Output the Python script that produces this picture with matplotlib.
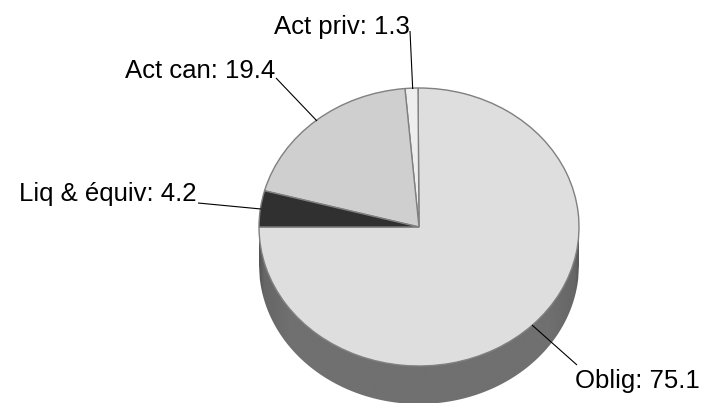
import numpy as np
import matplotlib
matplotlib.use('Agg')
import matplotlib.pyplot as plt
from matplotlib.patches import Polygon

# values as printed on the chart, counter-clockwise from 9 o'clock
categories = ['Oblig', 'Act priv', 'Act can', 'Liq & équiv']
values = [75.1, 1.3, 19.4, 4.2]
slice_colors = ['#dedede', '#eeeeee', '#cfcfcf', '#303030']

W, H = 702, 403
CX, CY = 419, 227      # pie centre in pixels
RX, RY = 160, 139      # ellipse radii in pixels
DEPTH = 38             # height of the side wall in pixels


def px(x, y):
    # pixel position (from top left) to data units
    return (x - CX) / RX, (CY - y) / RY


plt.rcParams['font.family'] = ['Liberation Sans', 'DejaVu Sans']

fig = plt.figure(figsize=(W / 100, H / 100), dpi=100)
ax = fig.add_axes([0, 0, 1, 1])

# top of the pie, squashed into an ellipse below by the axis limits
wedges, _ = ax.pie(values, colors=slice_colors, startangle=180, radius=1,
                   wedgeprops={'edgecolor': '#808080', 'linewidth': 1.0})
for w in wedges:
    w.set_zorder(5)

# side wall: horizontal gradient clipped to the lower rim, darker near both ends
d = DEPTH / RY
xs = np.linspace(-1, 1, 401)
arc = np.sqrt(1 - xs ** 2)
shade = np.interp(np.abs(xs), [0, 0.8, 0.97, 1], [0.44, 0.44, 0.40, 0.33])
rim = Polygon(np.column_stack([np.r_[xs, xs[::-1]],
                               np.r_[-arc - d, (-arc)[::-1] + 0.01]]),
              transform=ax.transData)
side = ax.imshow(shade[np.newaxis, :], cmap='gray', vmin=0, vmax=1, aspect='auto',
                 extent=(-1, 1, -1 - d, 0.02), zorder=2)
side.set_clip_path(rim)

ax.set_aspect('auto')
ax.set_xlim(-CX / RX, (W - CX) / RX)
ax.set_ylim(-(H - CY) / RY, CY / RY)
ax.axis('off')

# leader lines
leaders = [((532, 325), (577, 365)),
           ((412.7, 89), (410, 31)),
           ((317, 121), (276, 78)),
           ((261, 209), (198, 203))]
for (x0, y0), (x1, y1) in leaders:
    a = px(x0, y0)
    b = px(x1, y1)
    ax.plot([a[0], b[0]], [a[1], b[1]], color='black', lw=0.8, zorder=6,
            solid_capstyle='butt')

# labels, anchored on their right end
label_pos = [(700, 381), (410, 27), (275, 71), (197, 194)]
for name, val, (x, y) in zip(categories, values, label_pos):
    lx, ly = px(x, y)
    ax.text(lx, ly, f'{name}: {val}', ha='right', va='center',
            fontsize=18.5, color='black', zorder=7)

fig.savefig('out.png', dpi=100)
